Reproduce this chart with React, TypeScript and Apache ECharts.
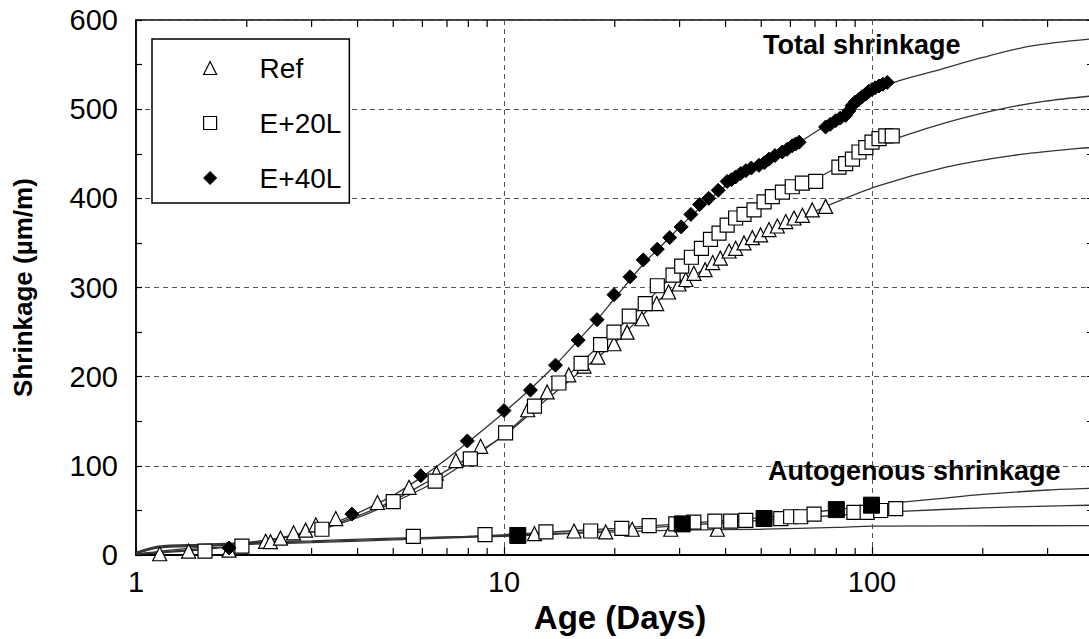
import React, { useEffect, useRef } from 'react';
import * as echarts from 'echarts';

// ---- data (age in days, shrinkage in µm/m) ----
const refTotalDays = [1.16, 1.39, 1.79, 2.25, 2.32, 2.47, 2.68, 2.89, 3.08, 3.49, 4.53, 5.52, 6.55, 7.4, 8.64, 11.6, 13.1, 15.0, 16.5, 18.0, 19.9, 21.6, 23.7, 26.0, 28.0, 29.9, 31.2, 32.8, 35.2, 36.9, 38.7, 40.9, 42.6, 44.9, 47.3, 49.8, 52.5, 55.3, 58.3, 61.4, 64.7, 68.8, 74.8];
const refTotalVals = [1.5, 4.5, 5.5, 15.5, 15, 19, 25, 28, 34, 41, 59, 76, 92, 106, 122, 163, 183, 202, 212, 222, 237, 250, 265, 282, 295, 304, 309, 316, 320, 328, 333, 341, 344, 350, 356, 359, 365, 369, 374, 378, 381, 387, 391];

const e20TotalDays = [1.54, 1.94, 3.2, 5.0, 6.5, 8.1, 10.1, 12.1, 14.1, 16.2, 18.3, 19.9, 21.9, 24.2, 26.1, 28.8, 30.4, 32.3, 34.4, 36.4, 38.4, 40.4, 42.6, 44.9, 47.8, 50.9, 53.6, 57.1, 60.7, 64.7, 70.3, 81.3, 84.8, 88.5, 92.2, 96.2, 100, 104.5, 109, 113.5];
const e20TotalVals = [4.5, 10, 29, 60, 83, 108, 137, 167, 193, 215, 236, 250, 268, 282, 302, 314, 324, 334, 344, 354, 361, 370, 378, 382, 387, 396, 402, 407, 413, 417, 419, 435, 439, 444, 452, 457, 463, 467, 470, 470];

const e40TotalDays = [1.79, 3.86, 5.94, 7.95, 10, 11.8, 13.8, 15.9, 17.9, 19.9, 22, 23.9, 26.1, 28.2, 30.3, 32.2, 34, 36, 38.2, 40.4, 41.5, 42.6, 44, 45.4, 47, 49.3, 51, 52.5, 54.5, 57, 58.8, 60.7, 62, 63.4, 74.8, 77, 79.6, 82, 84.8, 86.5, 88.3, 90, 92.2, 94, 96.2, 98, 100, 102, 104.5, 107, 110];
const e40TotalVals = [8, 46, 89, 128, 162, 185, 213, 241, 264, 292, 312, 331, 343, 356, 368, 382, 393, 400, 409, 419, 421, 424, 428, 431, 434, 437, 440, 444, 448, 452, 455, 459, 461, 463, 480, 483, 487, 490, 493, 498, 504, 508, 511, 514, 517, 520, 522, 524, 526, 528, 530];

const refAutoDays = [12.1, 15.5, 18.9, 22.3, 28.4, 38];
const refAutoVals = [24, 27, 26, 29, 29, 29];

const e20AutoDays = [5.67, 8.88, 13, 17.2, 20.9, 24.8, 29.3, 32.8, 37.4, 41.3, 45.4, 56.5, 60.1, 64, 69.6, 89.3, 97, 105.6, 116];
const e20AutoVals = [21, 23, 26, 27, 30, 33, 35, 37, 38, 38, 39, 41, 43, 43, 46, 48, 48, 50, 52];

const e40AutoDays = [10.9, 30.5, 50.9, 80, 99.7];
const e40AutoVals = [22, 35, 41, 51, 56];

// fitted curves
const e40FitDays = [1, 1.2, 1.5, 2, 2.5, 3, 3.5, 4, 5, 6, 7, 8, 10, 12, 14, 16, 18, 20, 24, 28, 32, 36, 40, 45, 50, 60, 75, 90, 100, 115, 146, 200, 272, 400];
const e40FitVals = [1, 5, 9, 14, 20, 28, 37, 47, 67, 88, 108, 127, 160, 189, 216, 242, 265, 288, 327, 355, 379, 398, 414, 428, 439, 457, 482, 505, 517, 530, 542, 558, 571, 579];

const e20FitDays = [1, 1.5, 2, 3, 4, 5, 6.5, 8, 10, 12, 14, 16, 18, 20, 24, 28, 32, 36, 42, 50, 60, 70, 80, 100, 122, 159, 217, 296, 400];
const e20FitVals = [1, 7, 12, 26, 42, 59, 82, 106, 135, 164, 191, 213, 234, 251, 281, 309, 332, 351, 375, 394, 411, 422, 434, 456, 470, 485, 499, 509, 515];

const refFitDays = [1, 1.5, 2, 3, 4, 5, 6, 7, 8, 10, 13, 17.4, 20, 26, 30, 35, 40, 50, 60, 75, 104, 159, 240, 365, 400];
const refFitVals = [1, 6, 12, 27, 44, 61, 79, 95, 109, 134, 174, 217, 238, 284, 302, 321, 337, 357, 372, 391, 414, 435, 448, 456, 457];

const e40AutoFitDays = [1, 1.15, 1.5, 2, 3, 5, 8, 10, 15, 20, 30, 50, 80, 100, 150, 200, 300, 400];
const e40AutoFitVals = [3, 10, 12, 14, 16, 19, 21, 23, 27, 30, 35, 42, 51, 56, 63, 68, 73, 75];

const e20AutoFitDays = [1, 1.15, 1.5, 2, 3, 5, 8, 10, 15, 20, 30, 50, 70, 100, 120, 200, 300, 400];
const e20AutoFitVals = [2, 9, 11, 13, 15, 18, 21, 22, 25, 28, 33, 39, 43, 47, 49, 53, 55, 56];

const refAutoFitDays = [1, 1.15, 1.5, 2, 3, 5, 8, 10, 15, 20, 30, 50, 80, 100, 400];
const refAutoFitVals = [1, 8, 10, 12, 14, 17, 20, 21, 24, 26, 28, 29, 31, 32.5, 33];

const minorTickDays = [2, 3, 4, 5, 6, 7, 8, 9, 20, 30, 40, 50, 60, 70, 80, 90, 200, 300];

const legendNames = ['Ref', 'E+20L', 'E+40L'];

const zip = (a: number[], b: number[]) => a.map((v, i) => [v, b[i]]);

const FONT = '"Liberation Sans", Arial, Helvetica, sans-serif';

const hollow = { color: '#fff', borderColor: '#000', borderWidth: 1.2, opacity: 1 };
const filled = { color: '#000', borderColor: '#000', borderWidth: 1, opacity: 1 };

function fitLine(name: string, days: number[], vals: number[]) {
  return {
    name,
    type: 'line',
    data: zip(days, vals),
    showSymbol: false,
    symbol: 'none',
    smooth: 0.3,
    lineStyle: { color: '#333', width: 1.3 },
    z: 2,
    silent: true,
  };
}

// plot: x from 1 to 1000 decades; only 1..~390 visible in the 1089px frame
const PLOT_LEFT = 136;
const CHART_W = 1241;

export default function App() {
  const ref = useRef<HTMLDivElement>(null);
  useEffect(() => {
    document.body.style.margin = '0';
    const chart = echarts.init(ref.current!, null, { renderer: 'svg' });
    const option: any = {
      animation: false,
      backgroundColor: '#fff',
      grid: { left: PLOT_LEFT, right: 1, top: 20, bottom: 79, show: true, borderColor: '#000', borderWidth: 1.5, backgroundColor: 'transparent' },
      xAxis: {
        type: 'log',
        logBase: 10,
        min: 1,
        max: 1000,
        axisLine: { onZero: false, lineStyle: { color: '#000', width: 2 } },
        axisTick: { inside: true, length: 8, lineStyle: { color: '#000', width: 1.2 } },
        axisLabel: { fontSize: 29, color: '#000', fontFamily: FONT, margin: 12, showMaxLabel: false },
        splitLine: { show: true, lineStyle: { type: [5, 4], color: '#555', width: 1 } },
        name: 'Age (Days)',
        nameLocation: 'middle',
        nameGap: 39,
        nameTextStyle: { fontSize: 33, fontWeight: 'bold', color: '#000', fontFamily: FONT, padding: [0, 136, 0, 0] },
      },
      yAxis: [
        {
          type: 'value',
          min: 0,
          max: 600,
          interval: 100,
          axisLine: { show: true, lineStyle: { color: '#000', width: 1.5 } },
          axisTick: { show: true, inside: true, length: 6, lineStyle: { color: '#000', width: 1.2 } },
          minorTick: { show: true, splitNumber: 2, length: 6, lineStyle: { color: '#000', width: 1.2 } },
          axisLabel: { fontSize: 29, color: '#000', fontFamily: FONT, margin: 18 },
          splitLine: { show: true, lineStyle: { type: [5, 4], color: '#555', width: 1 } },
          name: 'Shrinkage (µm/m)',
          nameLocation: 'middle',
          nameRotate: 90,
          nameGap: 100,
          nameTextStyle: { fontSize: 26, fontWeight: 'bold', color: '#000', fontFamily: FONT },
        },
        {
          type: 'value',
          position: 'right',
          offset: -147,
          min: 0,
          max: 600,
          interval: 100,
          axisLine: { show: true, lineStyle: { color: '#000', width: 1.5 } },
          axisTick: { show: true, inside: true, length: 6, lineStyle: { color: '#000', width: 1.2 } },
          minorTick: { show: true, splitNumber: 2, length: 6, lineStyle: { color: '#000', width: 1.2 } },
          axisLabel: { show: false },
          splitLine: { show: false },
        },
      ],
      legend: {
        data: [
          { name: legendNames[0], icon: 'triangle', itemStyle: hollow },
          { name: legendNames[1], icon: 'rect', itemStyle: hollow },
          { name: legendNames[2], icon: 'diamond', itemStyle: filled },
        ],
        orient: 'vertical',
        left: 152,
        top: 39,
        padding: [14, 8, 10, 51],
        itemGap: 25,
        itemWidth: 13,
        itemHeight: 13,
        backgroundColor: '#fff',
        borderColor: '#000',
        borderWidth: 1.5,
        selectedMode: false,
        textStyle: { fontSize: 28, lineHeight: 30, color: '#000', fontFamily: FONT, padding: [0, 0, 0, 38] },
      },
      graphic: [
        { type: 'text', left: 763, top: 31, style: { text: 'Total shrinkage', font: `bold 27px ${FONT}`, fill: '#000' } },
        { type: 'text', left: 768, top: 457, style: { text: 'Autogenous shrinkage', font: `bold 27px ${FONT}`, fill: '#000' } },
      ],
      series: [
        {
          type: 'custom',
          silent: true,
          z: 1,
          data: minorTickDays.map((d) => [d, 0]),
          encode: { x: 0, y: 1 },
          renderItem: (_p: any, api: any) => {
            const x = api.value(0);
            const b = api.coord([x, 0]);
            const t = api.coord([x, 600]);
            return {
              type: 'group',
              children: [
                { type: 'line', shape: { x1: b[0], y1: b[1], x2: b[0], y2: b[1] - 7 }, style: { stroke: '#000', lineWidth: 1.2 } },
                { type: 'line', shape: { x1: t[0], y1: t[1], x2: t[0], y2: t[1] + 7 }, style: { stroke: '#000', lineWidth: 1.2 } },
              ],
            };
          },
        },
        fitLine('fit-ref', refFitDays, refFitVals),
        fitLine('fit-e20', e20FitDays, e20FitVals),
        fitLine('fit-e40', e40FitDays, e40FitVals),
        fitLine('fit-ref-auto', refAutoFitDays, refAutoFitVals),
        fitLine('fit-e20-auto', e20AutoFitDays, e20AutoFitVals),
        fitLine('fit-e40-auto', e40AutoFitDays, e40AutoFitVals),
        { name: 'Ref', type: 'scatter', symbol: 'triangle', symbolSize: 14, itemStyle: hollow, data: zip(refTotalDays, refTotalVals), z: 3 },
        { name: 'Ref auto', type: 'scatter', symbol: 'triangle', symbolSize: 14, itemStyle: hollow, data: zip(refAutoDays, refAutoVals), z: 3 },
        { name: 'E+20L', type: 'scatter', symbol: 'rect', symbolSize: 14, itemStyle: hollow, data: zip(e20TotalDays, e20TotalVals), z: 4 },
        { name: 'E+20L auto', type: 'scatter', symbol: 'rect', symbolSize: 14, itemStyle: hollow, data: zip(e20AutoDays, e20AutoVals), z: 4 },
        { name: 'E+40L', type: 'scatter', symbol: 'diamond', symbolSize: 14, itemStyle: filled, data: zip(e40TotalDays, e40TotalVals), z: 5 },
        { name: 'E+40L auto', type: 'scatter', symbol: 'rect', symbolSize: 16, itemStyle: filled, data: zip(e40AutoDays, e40AutoVals), z: 5 },
      ],
    };
    chart.setOption(option);
    return () => chart.dispose();
  }, []);
  return (
    <div style={{ width: 1089, height: 639, overflow: 'hidden', position: 'relative', background: '#fff' }}>
      <div ref={ref} style={{ width: CHART_W, height: 639 }} />
    </div>
  );
}
